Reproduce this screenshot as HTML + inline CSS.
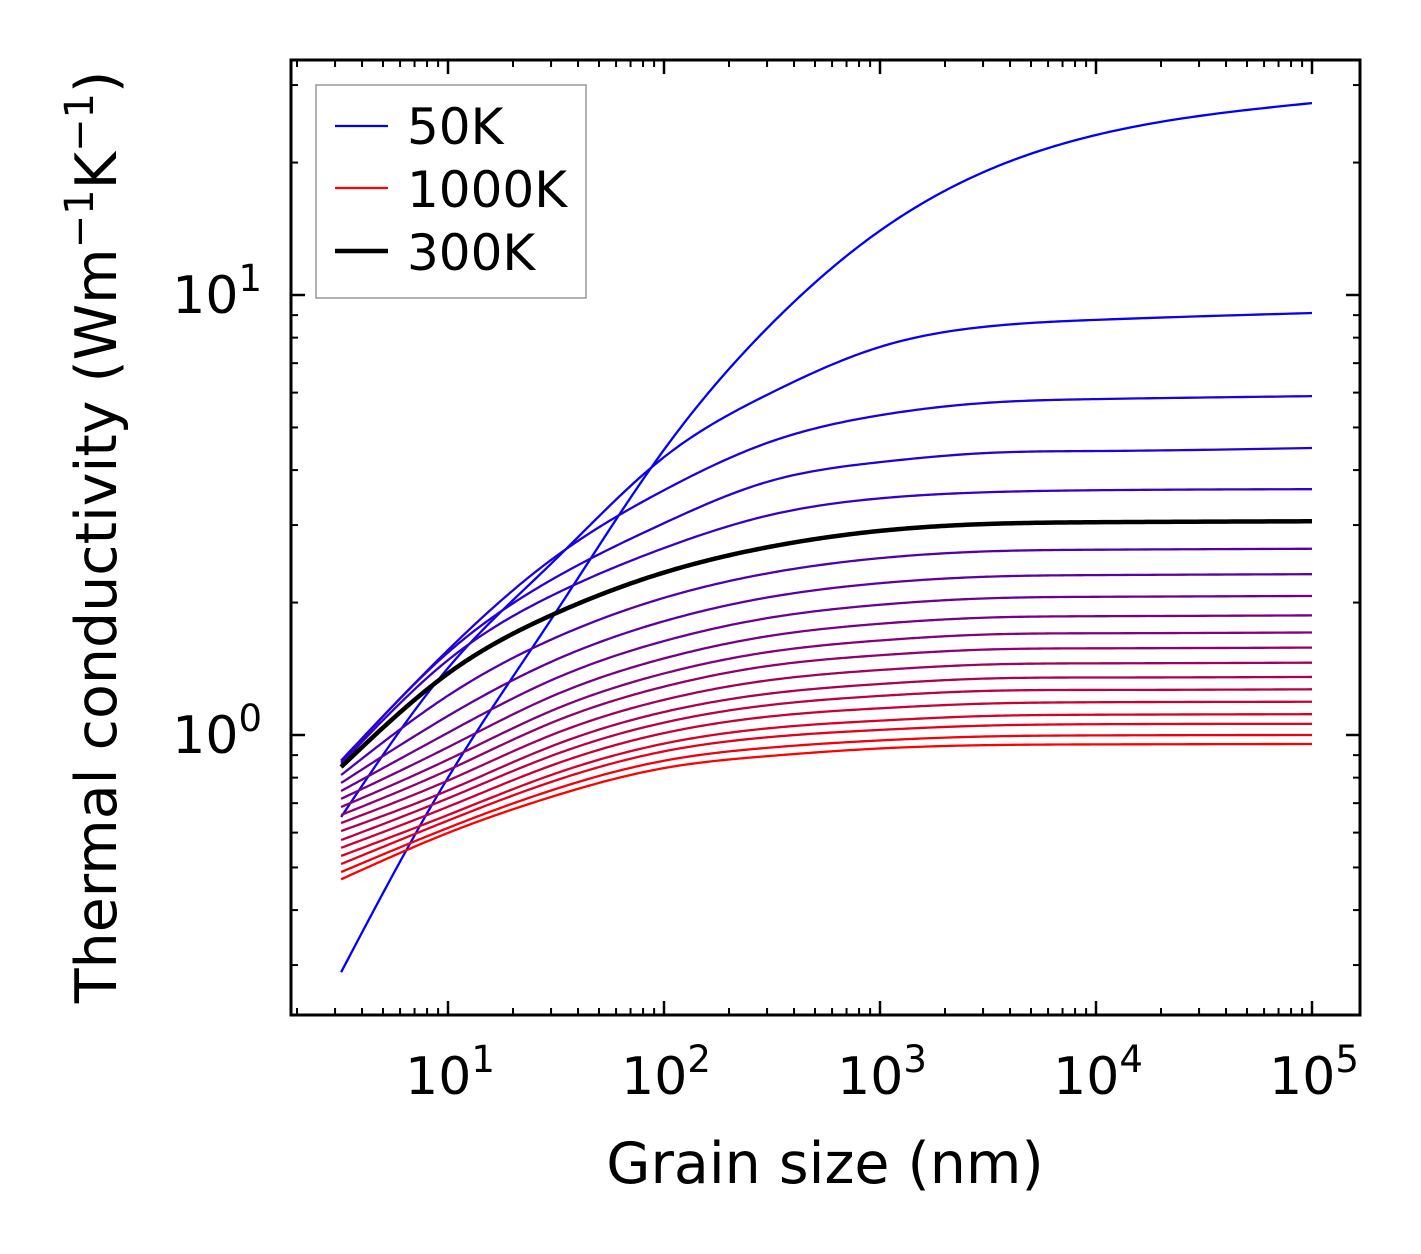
<!DOCTYPE html>
<html><head><meta charset="utf-8"><style>
html,body{margin:0;padding:0;background:#fff;}
svg{display:block;font-family:"DejaVu Sans","Liberation Sans",sans-serif;}
</style></head><body>
<svg id="chart" width="1421" height="1254" viewBox="0 0 1421 1254" xmlns="http://www.w3.org/2000/svg">
<g id="curves"></g>
<g id="axes"></g>
<rect x="291" y="60" width="1069" height="955" fill="none" stroke="#000" stroke-width="3"/>
<text x="825" y="1183" font-size="57" text-anchor="middle">Grain size (nm)</text>
<text transform="translate(116,537) rotate(-90)" font-size="57" text-anchor="middle">Thermal conductivity (Wm<tspan dy="-23" font-size="40">−1</tspan><tspan dy="23">K</tspan><tspan dy="-23" font-size="40">−1</tspan><tspan dy="23">)</tspan></text>
<g>
<rect x="316" y="85" width="270" height="213" fill="#fff" stroke="#999" stroke-width="1.5"/>
<line x1="335" y1="126" x2="388" y2="126" stroke="#0000ff" stroke-width="2.2"/>
<text x="407" y="144" font-size="50">50K</text>
<line x1="335" y1="188" x2="388" y2="188" stroke="#ff0000" stroke-width="2.2"/>
<text x="407" y="207" font-size="50">1000K</text>
<line x1="335" y1="251" x2="388" y2="251" stroke="#000" stroke-width="4.5"/>
<text x="407" y="270" font-size="50">300K</text>
</g>
</svg>
<script>
const grainSizes = [3.2, 10, 30, 100, 300, 1000, 3000, 10000, 100000];
const temperatures = [50,100,150,200,250,300,350,400,450,500,550,600,650,700,750,800,850,900,950,1000];
const k50 = [0.289, 0.80, 1.83, 4.45, 8.4, 14.0, 19.0, 23.1, 27.3];
const k100 = [0.651, 1.42, 2.45, 4.28, 5.93, 7.62, 8.46, 8.78, 9.10];
const k150 = [0.875, 1.56, 2.50, 3.60, 4.61, 5.33, 5.68, 5.80, 5.89];
const k200 = [0.868, 1.54, 2.25, 3.03, 3.76, 4.17, 4.37, 4.42, 4.49];
const k250 = [0.860, 1.48, 2.07, 2.66, 3.15, 3.45, 3.56, 3.60, 3.62];
const k300 = [0.846, 1.38, 1.87, 2.34, 2.67, 2.91, 3.015, 3.045, 3.06];
const k350 = [0.811, 1.229, 1.647, 2.050, 2.329, 2.523, 2.612, 2.637, 2.65];
const k400 = [0.778, 1.105, 1.466, 1.814, 2.053, 2.213, 2.288, 2.309, 2.32];
const k450 = [0.746, 1.012, 1.331, 1.635, 1.843, 1.977, 2.043, 2.061, 2.07];
const k500 = [0.716, 0.938, 1.222, 1.493, 1.676, 1.790, 1.847, 1.862, 1.87];
const k550 = [0.686, 0.879, 1.134, 1.380, 1.542, 1.640, 1.691, 1.703, 1.71];
const k600 = [0.658, 0.832, 1.065, 1.288, 1.434, 1.518, 1.563, 1.574, 1.58];
const k650 = [0.631, 0.788, 0.999, 1.202, 1.330, 1.405, 1.445, 1.455, 1.46];
const k700 = [0.605, 0.748, 0.942, 1.128, 1.240, 1.306, 1.343, 1.351, 1.355];
const k750 = [0.577, 0.718, 0.896, 1.067, 1.168, 1.227, 1.259, 1.266, 1.27];
const k800 = [0.554, 0.687, 0.852, 1.010, 1.100, 1.150, 1.178, 1.187, 1.19];
const k850 = [0.531, 0.658, 0.811, 0.956, 1.035, 1.078, 1.104, 1.112, 1.115];
const k900 = [0.509, 0.639, 0.782, 0.918, 0.988, 1.027, 1.050, 1.058, 1.06];
const k950 = [0.488, 0.615, 0.748, 0.874, 0.935, 0.972, 0.992, 0.998, 1.0];
const k1000 = [0.470, 0.599, 0.723, 0.841, 0.895, 0.932, 0.948, 0.952, 0.954];
const xTickValues = [10, 100, 1000, 10000, 100000];
const xTickExps = ["1","2","3","4","5"];
const yTickValues = [1, 10];
const yTickExps = ["0","1"];

const series = [k50,k100,k150,k200,k250,k300,k350,k400,k450,k500,k550,k600,k650,k700,k750,k800,k850,k900,k950,k1000];
const NS = "http://www.w3.org/2000/svg";
const L=291,R=1360,T=60,B=1015;
const xLogMin = 1 - 157/216, xLogMax = 5 + 48/216;
const yLogMin = -280/440, yLogMax = 1 + 235/440;
function xs(v){return L + (Math.log10(v)-xLogMin)/(xLogMax-xLogMin)*(R-L);}
function ys(v){return B - (Math.log10(v)-yLogMin)/(yLogMax-yLogMin)*(B-T);}

function curvePath(xv, yv){
  const X=xv.map(Math.log10), Y=yv.map(Math.log10), n=X.length;
  const h=[], a=new Array(n).fill(0), b=new Array(n).fill(0), c=new Array(n).fill(0), r=new Array(n).fill(0);
  for(let i=0;i<n-1;i++) h.push(X[i+1]-X[i]);
  b[0]=1; b[n-1]=1;
  for(let i=1;i<n-1;i++){
    a[i]=h[i-1]; b[i]=2*(h[i-1]+h[i]); c[i]=h[i];
    r[i]=6*((Y[i+1]-Y[i])/h[i]-(Y[i]-Y[i-1])/h[i-1]);
  }
  for(let i=1;i<n;i++){ const w=a[i]/b[i-1]; b[i]-=w*c[i-1]; r[i]-=w*r[i-1]; }
  const M=new Array(n).fill(0);
  M[n-1]=r[n-1]/b[n-1];
  for(let i=n-2;i>=0;i--) M[i]=(r[i]-c[i]*M[i+1])/b[i];
  let p="";
  for(let i=0;i<n-1;i++){
    for(let s=0;s<=30;s++){
      if(i>0&&s===0) continue;
      const x=X[i]+h[i]*s/30;
      const A=(X[i+1]-x)/h[i], Bc=(x-X[i])/h[i];
      const y=A*Y[i]+Bc*Y[i+1]+((A*A*A-A)*M[i]+(Bc*Bc*Bc-Bc)*M[i+1])*h[i]*h[i]/6;
      const px=xs(Math.pow(10,x)), py=ys(Math.pow(10,y));
      p += (p?"L":"M")+px.toFixed(2)+" "+py.toFixed(2);
    }
  }
  return p;
}
const cg=document.getElementById("curves");
series.forEach((s,i)=>{
  const f=i/(series.length-1);
  const el=document.createElementNS(NS,"path");
  el.setAttribute("d",curvePath(grainSizes,s));
  el.setAttribute("fill","none");
  el.setAttribute("stroke","rgb("+Math.round(255*f)+",0,"+Math.round(255*(1-f))+")");
  el.setAttribute("stroke-width","2.3");
  
  
  cg.appendChild(el);
});
const black=document.createElementNS(NS,"path");
black.setAttribute("d",curvePath(grainSizes,k300));
black.setAttribute("fill","none");
black.setAttribute("stroke","#000");
black.setAttribute("stroke-width","4.5");


cg.appendChild(black);

const ag=document.getElementById("axes");
function line(x1,y1,x2,y2,w){
  const l=document.createElementNS(NS,"line");
  l.setAttribute("x1",x1);l.setAttribute("y1",y1);l.setAttribute("x2",x2);l.setAttribute("y2",y2);
  l.setAttribute("stroke","#000");l.setAttribute("stroke-width",w);
  
  
  ag.appendChild(l);
}
for(let e=0;e<=5;e++){
  for(let k=1;k<=9;k++){
    const v=k*Math.pow(10,e), x=xs(v);
    if(x<L+1||x>R-1) continue;
    const len = k===1?14:7, w = k===1?2.5:2;
    line(x,B,x,B-len,w); line(x,T,x,T+len,w);
  }
}
for(let e=-1;e<=1;e++){
  for(let k=1;k<=9;k++){
    const v=k*Math.pow(10,e), y=ys(v);
    if(y<T+1||y>B-1) continue;
    const len = k===1?14:7, w = k===1?2.5:2;
    line(L,y,L+len,y,w); line(R,y,R-len,y,w);
  }
}
xTickValues.forEach((v,i)=>{
  const t=document.createElementNS(NS,"text");
  t.setAttribute("x",xs(v)+2);t.setAttribute("y",1094);
  t.setAttribute("font-size","52");t.setAttribute("text-anchor","middle");
  t.innerHTML='10<tspan dy="-22" font-size="37">'+xTickExps[i]+'</tspan>';
  
  
  ag.appendChild(t);
});
yTickValues.forEach((v,i)=>{
  const t=document.createElementNS(NS,"text");
  t.setAttribute("x",262);t.setAttribute("y",ys(v)+18);
  t.setAttribute("font-size","52");t.setAttribute("text-anchor","end");
  t.innerHTML='10<tspan dy="-22" font-size="37">'+yTickExps[i]+'</tspan>';
  
  
  ag.appendChild(t);
});
</script>
</body></html>
